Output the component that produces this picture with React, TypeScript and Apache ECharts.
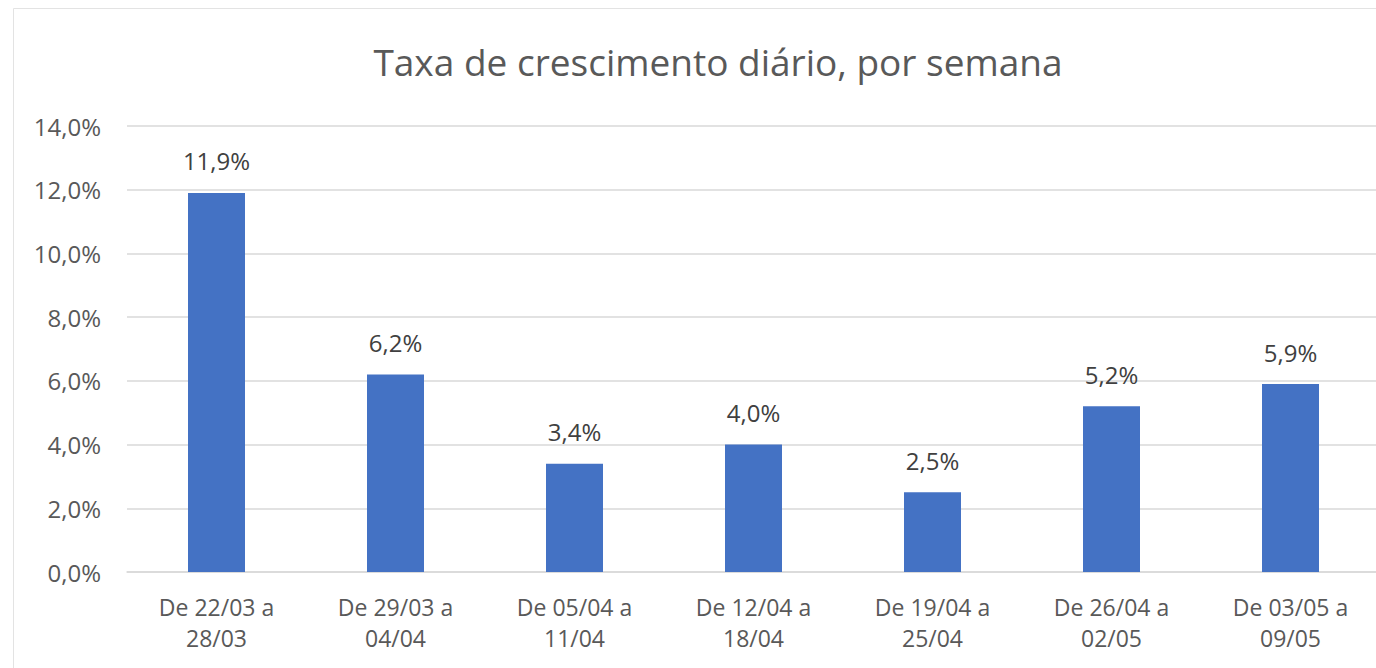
import React, { useEffect, useRef } from "react";
import * as echarts from "echarts";

const categories = [
  "De 22/03 a\n28/03",
  "De 29/03 a\n04/04",
  "De 05/04 a\n11/04",
  "De 12/04 a\n18/04",
  "De 19/04 a\n25/04",
  "De 26/04 a\n02/05",
  "De 03/05 a\n09/05",
];
const values = [11.9, 6.2, 3.4, 4.0, 2.5, 5.2, 5.9];
const yTicks = { min: 0, max: 14, interval: 2 };
const title = "Taxa de crescimento diário, por semana";

const fmt = (v: number) => v.toFixed(1).replace(".", ",") + "%";

export default function App() {
  const ref = useRef<HTMLDivElement>(null);
  useEffect(() => {
    if (!ref.current) return;
    const chart = echarts.init(ref.current, undefined, { renderer: "svg" });
    const font = "'Open Sans', 'Noto Sans', sans-serif";
    chart.setOption({
      animation: false,
      backgroundColor: "#ffffff",
      textStyle: { fontFamily: font },
      title: {
        text: title,
        left: 713,
        textAlign: "center",
        top: 38,
        textStyle: { fontSize: 37, fontWeight: "normal", color: "#595959", fontFamily: font },
      },
      graphic: [
        {
          type: "rect",
          shape: { x: 13.5, y: 8.5, width: 1400, height: 700 },
          style: { fill: "none", stroke: "#e3e3e3", lineWidth: 1 },
          silent: true,
        },
      ],
      grid: { left: 127, right: 10, top: 126, bottom: 96 },
      xAxis: {
        type: "category",
        data: categories,
        axisLine: { show: true, lineStyle: { color: "#d9d9d9", width: 1.5 } },
        axisTick: { show: false },
        axisLabel: {
          color: "#595959",
          fontSize: 23,
          lineHeight: 31,
          margin: 19,
          interval: 0,
          fontFamily: font,
        },
      },
      yAxis: {
        type: "value",
        min: yTicks.min,
        max: yTicks.max,
        interval: yTicks.interval,
        axisLine: { show: false },
        axisTick: { show: false },
        splitLine: { lineStyle: { color: "#d9d9d9", width: 1.5 } },
        axisLabel: {
          color: "#595959",
          fontSize: 24,
          margin: 26,
          formatter: (v: number) => fmt(v),
          fontFamily: font,
        },
      },
      series: [
        {
          type: "bar",
          data: values,
          barWidth: 57,
          itemStyle: { color: "#4472C4" },
          label: {
            show: true,
            position: "top",
            distance: 20,
            color: "#404040",
            fontSize: 24,
            fontFamily: font,
            formatter: (p: any) => fmt(p.value),
          },
        },
      ],
    });
    return () => chart.dispose();
  }, []);
  return (
    <div style={{ position: "absolute", left: 0, top: 0, width: 1376, height: 668, overflow: "hidden" }}>
      <div ref={ref} style={{ width: 1390, height: 668 }} />
    </div>
  );
}
